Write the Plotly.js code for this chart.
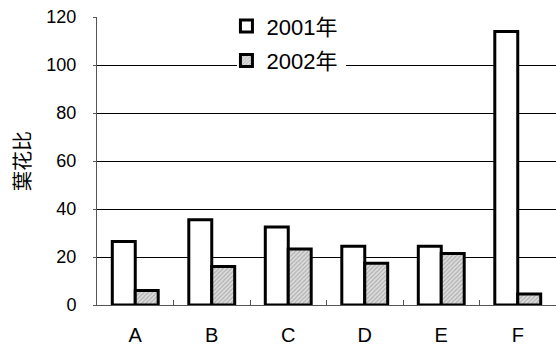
<!DOCTYPE html>
<html>
<head>
<meta charset="utf-8">
<script src="https://cdn.plot.ly/plotly-3.0.1.min.js"></script>
<style>
  html, body { margin: 0; padding: 0; background: #fff; }
  #chart { width: 556px; height: 349px; }
</style>
</head>
<body>
<div id="chart"></div>
<script>
// Leaf-to-flower ratio per site, two seasons
const categories = ['A', 'B', 'C', 'D', 'E', 'F'];
const series2001 = [26.5, 35.5, 32.5, 24.5, 24.5, 114];
const series2002 = [6, 16, 23.3, 17.4, 21.5, 4.6];
const seriesNames = ['2001年', '2002年'];
const yTickValues = [0, 20, 40, 60, 80, 100, 120];
const yTitle = '葉花比';

const FONT = 'Liberation Sans, Arial, "Noto Sans CJK SC", sans-serif';

const traces = [
  {
    type: 'bar',
    name: seriesNames[0],
    legendgroup: 'g1',
    x: categories,
    y: series2001,
    marker: { color: '#ffffff', line: { color: '#000000', width: 3 } }
  },
  {
    type: 'bar',
    name: seriesNames[1],
    legendgroup: 'g2',
    x: categories,
    y: series2002,
    marker: {
      color: '#d8d8d8',
      line: { color: '#000000', width: 3 },
      pattern: { shape: '/', fgcolor: '#ababab', bgcolor: '#dcdcdc', size: 3, solidity: 0.35 }
    }
  }
];

const layout = {
  width: 556,
  height: 349,
  margin: { l: 97, r: 0, t: 17, b: 44 },
  paper_bgcolor: '#ffffff',
  plot_bgcolor: '#ffffff',
  font: { family: FONT, size: 18, color: '#000000' },
  barmode: 'group',
  bargap: 0.4,
  bargroupgap: 0,
  showlegend: true,
  legend: {
    x: 0.282, y: 1.041, xanchor: 'left', yanchor: 'top',
    bgcolor: 'rgba(0,0,0,0)',
    borderwidth: 0,
    font: { family: FONT, size: 22, color: '#000000' },
    traceorder: 'grouped',
    tracegroupgap: 3,
    itemwidth: 30
  },
  // white panel behind the legend that interrupts the gridlines
  shapes: [{
    type: 'rect', xref: 'paper', yref: 'paper',
    x0: 0.305, x1: 0.5425, y0: 0.80, y1: 1.03,
    fillcolor: '#ffffff', line: { width: 0 }, layer: 'above'
  }],
  xaxis: {
    type: 'category',
    showgrid: false,
    showline: true,
    linecolor: '#555555',
    linewidth: 1,
    ticks: 'inside',
    tickson: 'boundaries',
    ticklen: 5,
    tickcolor: '#555555',
    ticklabelstandoff: 12,
    tickfont: { family: FONT, size: 20, color: '#000000' },
    zeroline: false
  },
  yaxis: {
    range: [0, 120],
    tickvals: yTickValues,
    ticktext: yTickValues.map(String),
    showgrid: true,
    gridcolor: '#000000',
    gridwidth: 1,
    showline: true,
    linecolor: '#555555',
    linewidth: 1,
    ticks: 'outside',
    ticklen: 3,
    tickcolor: '#555555',
    ticklabelstandoff: 13,
    zeroline: false,
    tickfont: { family: FONT, size: 18, color: '#000000' },
    title: { text: yTitle, standoff: 10, font: { family: FONT, size: 20, color: '#000000' } }
  }
};

Plotly.newPlot('chart', traces, layout, { displayModeBar: false, staticPlot: true });
</script>
</body>
</html>
